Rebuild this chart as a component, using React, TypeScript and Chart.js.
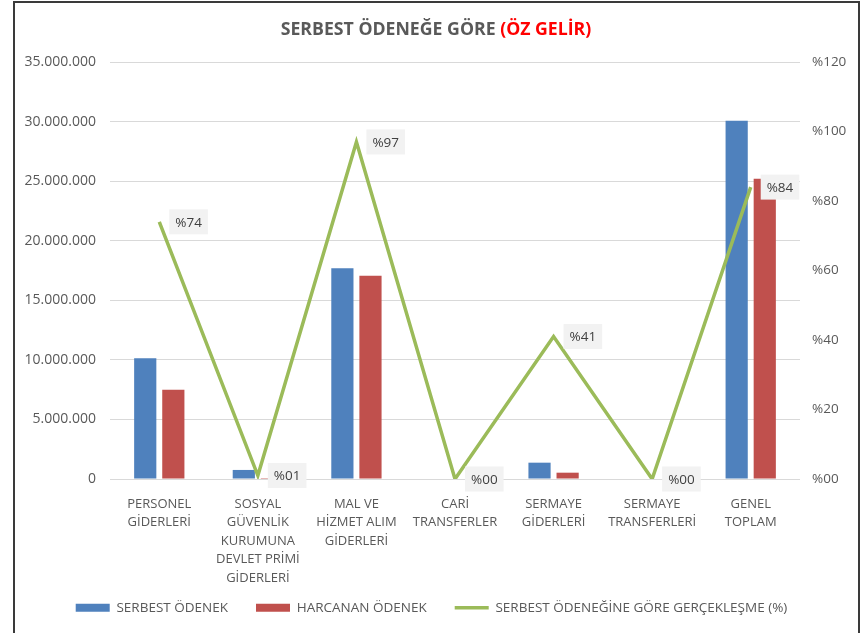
import React, { useEffect, useRef } from "react";
import { Chart, registerables } from "chart.js";

Chart.register(...registerables);

const categories: string[][] = [
  ["PERSONEL", "GİDERLERİ"],
  ["SOSYAL", "GÜVENLİK", "KURUMUNA", "DEVLET PRİMİ", "GİDERLERİ"],
  ["MAL VE", "HİZMET ALIM", "GİDERLERİ"],
  ["CARİ", "TRANSFERLER"],
  ["SERMAYE", "GİDERLERİ"],
  ["SERMAYE", "TRANSFERLERİ"],
  ["GENEL", "TOPLAM"],
];

const serbestOdenek = [10130000, 760000, 17690000, 0, 1370000, 0, 30070000];
const harcananOdenek = [7500000, 8000, 17060000, 0, 530000, 0, 25200000];
const gerceklesme = [74, 1, 97, 0, 41, 0, 84];

const seriesNames = [
  "SERBEST ÖDENEK",
  "HARCANAN ÖDENEK",
  "SERBEST ÖDENEĞİNE GÖRE GERÇEKLEŞME (%)",
];

const titleMain = "SERBEST ÖDENEĞE GÖRE ";
const titleRed = "(ÖZ GELİR)";

const FONT = "'Open Sans', sans-serif";
const TEXT = "#595959";

const fmtThousands = (v: number) =>
  String(Math.round(v)).replace(/\B(?=(\d{3})+(?!\d))/g, ".");
const pad2 = (v: number) => (v < 10 ? "0" + v : String(v));

const titlePlugin = {
  id: "twoColorTitle",
  afterDraw(chart: any) {
    const ctx = chart.ctx;
    ctx.save();
    ctx.font = `bold 17.7px ${FONT}`;
    ctx.textBaseline = "middle";
    const w1 = ctx.measureText(titleMain).width;
    const w2 = ctx.measureText(titleRed).width;
    const cx = 436;
    const x0 = cx - (w1 + w2) / 2;
    ctx.fillStyle = TEXT;
    ctx.textAlign = "left";
    ctx.fillText(titleMain, x0, 30);
    ctx.fillStyle = "#ff0000";
    ctx.fillText(titleRed, x0 + w1, 30);
    ctx.restore();
  },
};

const labelPlugin = {
  id: "pctLabels",
  afterDatasetsDraw(chart: any) {
    const ctx = chart.ctx;
    const meta = chart.getDatasetMeta(2);
    ctx.save();
    ctx.font = `13.5px ${FONT}`;
    ctx.textBaseline = "middle";
    ctx.textAlign = "left";
    meta.data.forEach((pt: any, i: number) => {
      const text = "%" + pad2(gerceklesme[i]);
      const tw = ctx.measureText(text).width;
      const bw = tw + 12;
      const bh = 25;
      const bx = pt.x + 10;
      const by = pt.y - bh / 2;
      ctx.fillStyle = "#f2f2f2";
      ctx.fillRect(bx, by, bw, bh);
      ctx.fillStyle = "#404040";
      ctx.fillText(text, bx + 6, pt.y + 1);
    });
    ctx.restore();
  },
};

const legendPlacePlugin = {
  id: "legendPlace",
  beforeInit(chart: any) {
    const lg = chart.legend;
    if (lg && !lg.__patched) {
      const origFit = lg.fit;
      lg.fit = function () {
        origFit.call(this);
        this.height = 42;
      };
      lg.__patched = true;
    }
  },
  afterLayout(chart: any) {
    const lg = chart.legend;
    if (lg) {
      lg.top -= 18;
      lg.bottom -= 18;
    }
  },
};

export default function App() {
  const canvasRef = useRef<HTMLCanvasElement | null>(null);

  useEffect(() => {
    if (!canvasRef.current) return;
    const chart = new Chart(canvasRef.current, {
      type: "bar",
      data: {
        labels: categories,
        datasets: [
          {
            type: "bar",
            label: seriesNames[0],
            data: serbestOdenek,
            backgroundColor: "#4f81bd",
            borderWidth: 0,
            yAxisID: "y",
            order: 1,
            pointStyle: "rect",
            categoryPercentage: 0.57,
            barPercentage: 0.79,
          } as any,
          {
            type: "bar",
            label: seriesNames[1],
            data: harcananOdenek,
            backgroundColor: "#c0504d",
            borderWidth: 0,
            yAxisID: "y",
            order: 1,
            pointStyle: "rect",
            categoryPercentage: 0.57,
            barPercentage: 0.79,
          } as any,
          {
            type: "line",
            label: seriesNames[2],
            data: gerceklesme,
            borderColor: "#9bbb59",
            backgroundColor: "#9bbb59",
            borderWidth: 3.5,
            pointRadius: 0,
            pointStyle: "line",
            tension: 0,
            yAxisID: "y2",
            order: 0,
          } as any,
        ],
      },
      options: {
        animation: false,
        responsive: false,
        maintainAspectRatio: false,
        layout: { padding: { top: 62, bottom: 0, left: 0, right: 0 } },
        plugins: {
          title: { display: false },
          tooltip: { enabled: false },
          legend: {
            display: true,
            position: "bottom",
            labels: {
              usePointStyle: true,
              pointStyleWidth: 34,
              boxHeight: 8,
              padding: 28,
              color: TEXT,
              font: { family: FONT, size: 13.5 },
              sort: (a: any, b: any) => a.datasetIndex - b.datasetIndex,
            },
          },
        },
        scales: {
          x: {
            grid: { display: false },
            border: { display: false },
            ticks: {
              color: TEXT,
              font: { family: FONT, size: 13, lineHeight: 1.42 },
              padding: 8,
              maxRotation: 0,
              autoSkip: false,
            },
            afterFit: (s: any) => {
              s.height = 112;
            },
          },
          y: {
            position: "left",
            min: 0,
            max: 35000000,
            grid: { color: "#d9d9d9", lineWidth: 1, drawTicks: false },
            border: { display: false },
            ticks: {
              stepSize: 5000000,
              color: TEXT,
              font: { family: FONT, size: 14 },
              padding: 14,
              callback: (v: any) => fmtThousands(Number(v)),
            },
            afterFit: (s: any) => {
              s.width = 110;
            },
          },
          y2: {
            position: "right",
            min: 0,
            max: 120,
            grid: { display: false, drawTicks: false },
            border: { display: false },
            ticks: {
              stepSize: 20,
              color: TEXT,
              font: { family: FONT, size: 13.5 },
              padding: 12,
              callback: (v: any) => "%" + pad2(Number(v)),
            },
            afterFit: (s: any) => {
              s.width = 63;
            },
          },
        },
      } as any,
      plugins: [titlePlugin, labelPlugin, legendPlacePlugin],
    });
    return () => chart.destroy();
  }, []);

  return (
    <div
      style={{
        position: "absolute",
        left: 0,
        top: 0,
        width: 863,
        height: 633,
        overflow: "hidden",
        background: "#ffffff",
      }}
    >
      <canvas
        ref={canvasRef}
        width={863}
        height={633}
        style={{ position: "absolute", left: 0, top: 0, width: 863, height: 633 }}
      />
      <div
        style={{
          position: "absolute",
          left: 13,
          top: 1,
          width: 843,
          height: 700,
          border: "2px solid #3a3a3a",
          pointerEvents: "none",
        }}
      />
    </div>
  );
}
